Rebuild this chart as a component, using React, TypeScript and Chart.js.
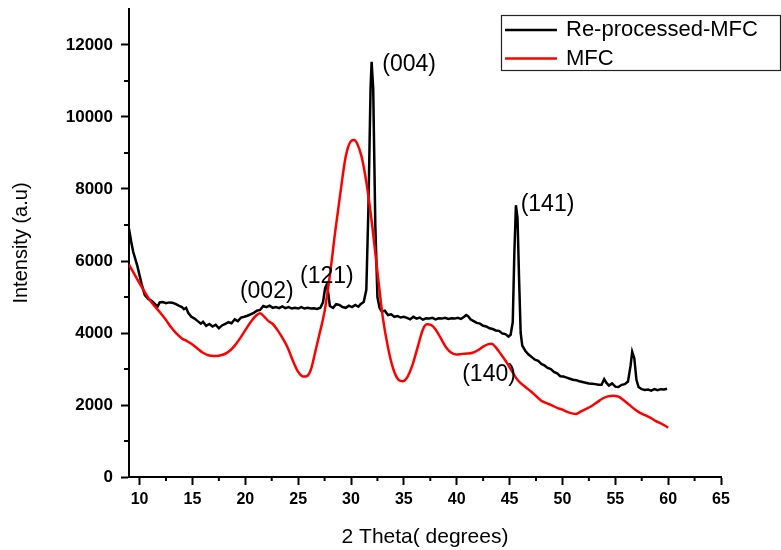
import React, { useEffect, useRef } from "react";
import { Chart, registerables } from "chart.js";

Chart.register(...registerables);

// Re-processed-MFC (black)
const reprocessedX = [
  9.0, 9.2, 9.4, 9.6, 9.8, 10.0, 10.2, 10.5, 10.8, 11.1, 11.4, 11.7, 11.9, 12.2, 12.5, 12.8, 13.1, 13.4, 13.7, 14.0,
  14.2, 14.4, 14.6, 14.9, 15.2, 15.5, 15.8, 16.0, 16.3, 16.6, 16.9, 17.2, 17.5, 17.8, 18.1, 18.4, 18.7, 19.0, 19.3, 19.6,
  19.9, 20.2, 20.5, 20.8, 21.1, 21.4, 21.7, 22.0, 22.3, 22.6, 22.9, 23.2, 23.5, 23.8, 24.1, 24.4, 24.7, 25.0, 25.3, 25.6,
  25.9, 26.2, 26.5, 26.8, 27.1, 27.35, 27.55, 27.7, 27.85, 28.0, 28.3, 28.6, 28.9, 29.2, 29.5, 29.8, 30.1, 30.4, 30.7, 30.9,
  31.2, 31.45, 31.65, 31.85, 31.95, 32.1, 32.3, 32.5, 32.7, 32.9, 33.2, 33.5, 33.8, 34.1, 34.4, 34.7, 35.0, 35.3, 35.6, 35.9,
  36.2, 36.5, 36.8, 37.1, 37.4, 37.7, 38.0, 38.3, 38.6, 38.9, 39.2, 39.5, 39.8, 40.1, 40.4, 40.7, 40.9, 41.1, 41.3, 41.6,
  41.9, 42.2, 42.5, 42.8, 43.1, 43.4, 43.7, 44.0, 44.3, 44.6, 44.9, 45.1, 45.3, 45.45, 45.6, 45.75, 45.9, 46.05, 46.2, 46.5,
  46.8, 47.1, 47.4, 47.7, 48.0, 48.3, 48.6, 48.9, 49.2, 49.5, 49.8, 50.1, 50.4, 50.7, 51.0, 51.3, 51.6, 51.9, 52.2, 52.5,
  52.8, 53.1, 53.4, 53.7, 53.95, 54.15, 54.4, 54.7, 55.0, 55.3, 55.6, 55.9, 56.2, 56.45, 56.6, 56.8, 57.0, 57.2, 57.5, 57.8,
  58.1, 58.4, 58.7, 59.0, 59.3, 59.6, 59.9,
];
const reprocessedY = [
  6900, 6550, 6250, 6050, 5850, 5600, 5350, 5050, 4950, 4900, 4820, 4730, 4850, 4860, 4830, 4850, 4840, 4810, 4760, 4720,
  4660, 4700, 4560, 4450, 4400, 4330, 4260, 4310, 4200, 4250, 4180, 4230, 4130, 4210, 4250, 4300, 4270, 4380, 4330, 4430,
  4450, 4480, 4520, 4560, 4620, 4640, 4750, 4720, 4760, 4700, 4720, 4690, 4740, 4690, 4720, 4680, 4700, 4680, 4720, 4680,
  4700, 4680, 4690, 4670, 4700, 4850, 5250, 5350, 5100, 4750, 4700, 4800, 4780, 4720, 4700, 4760, 4720, 4780, 4730, 4800,
  4860, 5200, 7500, 10800, 11530, 10800, 7000, 5000, 4700, 4600, 4620, 4500, 4520, 4450, 4470, 4430, 4450, 4420, 4380, 4450,
  4400, 4430, 4370, 4410, 4400, 4420, 4380, 4410, 4400, 4420, 4390, 4410, 4400, 4420, 4390, 4450, 4500, 4460, 4380, 4330,
  4280, 4260, 4200, 4180, 4130, 4110, 4070, 4060, 3990, 3970, 3900, 3950, 4300, 6200, 7550, 7200, 5500, 4000, 3650, 3500,
  3400, 3330, 3260, 3230, 3140, 3100, 3030, 3000, 2920, 2880, 2800, 2790, 2760, 2730, 2700, 2690, 2660, 2640, 2620, 2600,
  2590, 2580, 2560, 2560, 2720, 2620, 2540, 2600, 2510, 2500, 2560, 2580, 2650, 3100, 3480, 3300, 2700, 2500, 2440, 2420,
  2430, 2400, 2440, 2410, 2440, 2430, 2450,
];

// MFC (red)
const mfcX = [
  9.0, 10.0, 11.0, 12.0, 12.5, 13.0, 13.5, 14.0, 14.5, 15.0, 15.5, 16.0, 16.5, 17.0, 17.5, 18.0, 18.5, 19.0, 19.5, 20.0,
  20.5, 21.0, 21.4, 21.8, 22.2, 22.6, 23.0, 23.5, 24.0, 24.5, 25.0, 25.5, 25.8, 26.2, 26.6, 27.0, 27.5, 28.0, 28.5, 29.0,
  29.5, 30.0, 30.3, 30.6, 31.0, 31.5, 32.0, 32.5, 33.0, 33.5, 34.0, 34.5, 34.9, 35.3, 35.8, 36.3, 36.8, 37.2, 37.6, 38.0,
  38.5, 39.0, 39.5, 40.0, 40.5, 41.0, 41.5, 42.0, 42.5, 43.0, 43.3, 43.7, 44.2, 44.8, 45.3, 45.8, 46.5, 47.0, 47.5, 48.0,
  48.5, 49.0, 49.5, 50.0, 50.5, 51.0, 51.3, 51.8, 52.3, 52.8, 53.3, 53.8, 54.3, 54.8, 55.3, 55.8, 56.3, 56.8, 57.3, 57.8,
  58.3, 58.8, 59.3, 59.8, 60.0,
];
const mfcY = [
  5900, 5380, 4900, 4550, 4360, 4150, 3980, 3850, 3770, 3680, 3560, 3450, 3380, 3360, 3370, 3410, 3500, 3650, 3850, 4080,
  4300, 4480, 4550, 4450, 4330, 4250, 4100, 3870, 3600, 3230, 2920, 2790, 2800, 2980, 3450, 3950, 4600, 5600, 6800, 7900,
  8900, 9330, 9360, 9250, 8900, 8100, 7000, 5700, 4450, 3600, 3000, 2700, 2660, 2760, 3100, 3600, 4100, 4240, 4220, 4100,
  3850, 3600, 3450, 3400, 3420, 3430, 3450, 3520, 3620, 3690, 3700, 3600, 3400, 3150, 2900, 2680, 2500, 2380, 2250, 2120,
  2050, 1990, 1920, 1870, 1800, 1760, 1750, 1830, 1900, 1980, 2080, 2180, 2240, 2260, 2230, 2130, 2010, 1890, 1790, 1720,
  1650, 1560, 1490, 1410, 1370,
];

const xTickValues = [10, 15, 20, 25, 30, 35, 40, 45, 50, 55, 60, 65];
const xMinorTicks = [12.5, 17.5, 22.5, 27.5, 32.5, 37.5, 42.5, 47.5, 52.5, 57.5, 62.5];
const yTickValues = [0, 2000, 4000, 6000, 8000, 10000, 12000];
const yMinorTicks = [1000, 3000, 5000, 7000, 9000, 11000];

const peakLabels = ["(004)", "(141)", "(121)", "(002)", "(140)"];
const peakLabelX = [32.96, 46.05, 25.18, 19.49, 40.52];
const peakLabelY = [11444, 7556, 5564, 5147, 2833];

const FONT = '"Liberation Sans", Arial, Helvetica, sans-serif';

const decorPlugin = {
  id: "decor",
  afterDraw(chart: any) {
    const ctx = chart.ctx;
    const xs = chart.scales.x;
    const ys = chart.scales.y;
    ctx.save();
    ctx.strokeStyle = "#000";
    ctx.lineWidth = 2;
    xMinorTicks.forEach((v) => {
      const px = xs.getPixelForValue(v);
      ctx.beginPath();
      ctx.moveTo(px, ys.bottom);
      ctx.lineTo(px, ys.bottom + 4);
      ctx.stroke();
    });
    yMinorTicks.forEach((v) => {
      const py = ys.getPixelForValue(v);
      ctx.beginPath();
      ctx.moveTo(xs.left, py);
      ctx.lineTo(xs.left - 5, py);
      ctx.stroke();
    });

    // peak annotations
    ctx.fillStyle = "#000";
    ctx.font = `23px ${FONT}`;
    ctx.textAlign = "left";
    ctx.textBaseline = "middle";
    peakLabels.forEach((t, i) => {
      ctx.fillText(t, xs.getPixelForValue(peakLabelX[i]), ys.getPixelForValue(peakLabelY[i]));
    });

    // legend box
    const boxLeft = chart.width - 280;
    const boxTop = 15;
    ctx.lineWidth = 1.2;
    ctx.strokeStyle = "#222";
    ctx.strokeRect(boxLeft + 0.5, boxTop + 0.5, 279, 55);
    ctx.font = `22px ${FONT}`;
    chart.data.datasets.forEach((ds: any, i: number) => {
      const y = boxTop + 15 + i * 28.5;
      ctx.strokeStyle = ds.borderColor;
      ctx.lineWidth = 2.5;
      ctx.beginPath();
      ctx.moveTo(boxLeft + 4, y);
      ctx.lineTo(boxLeft + 56, y);
      ctx.stroke();
      ctx.fillStyle = "#000";
      ctx.fillText(ds.label, boxLeft + 65, y);
    });
    ctx.restore();
  },
};

export default function App() {
  const canvasRef = useRef<HTMLCanvasElement | null>(null);

  useEffect(() => {
    const canvas = canvasRef.current;
    if (!canvas) return;
    const chart = new Chart(canvas, {
      type: "line",
      data: {
        datasets: [
          {
            label: "Re-processed-MFC",
            data: reprocessedX.map((x, i) => ({ x, y: reprocessedY[i] })),
            borderColor: "#000000",
            backgroundColor: "#000000",
            borderWidth: 2.5,
            pointRadius: 0,
            tension: 0,
            order: 2,
          },
          {
            label: "MFC",
            data: mfcX.map((x, i) => ({ x, y: mfcY[i] })),
            borderColor: "#ff0000",
            backgroundColor: "#ff0000",
            borderWidth: 2.5,
            pointRadius: 0,
            cubicInterpolationMode: "monotone",
            order: 1,
          },
        ],
      },
      options: {
        animation: false,
        responsive: false,
        devicePixelRatio: 1,
        layout: { padding: { left: 0, right: 60, top: 9, bottom: 0 } },
        plugins: {
          legend: { display: false },
          tooltip: { enabled: false },
        },
        scales: {
          x: {
            type: "linear",
            min: 9,
            max: 65,
            afterBuildTicks: (scale: any) => {
              scale.ticks = xTickValues.map((v) => ({ value: v }));
            },
            afterFit: (scale: any) => {
              scale.height = 73;
              scale.paddingLeft = 0;
              scale.paddingRight = 0;
            },
            border: { display: true, color: "#000", width: 2 },
            grid: {
              display: true,
              drawOnChartArea: false,
              drawTicks: true,
              tickLength: 8,
              tickWidth: 2,
              tickColor: "#000",
              color: "#000",
            },
            ticks: {
              color: "#000",
              padding: 5,
              maxRotation: 0,
              autoSkip: false,
              font: { family: FONT, size: 16, weight: "bold" },
              callback: (v: any) => String(v),
            },
            title: {
              display: true,
              text: "2 Theta( degrees)",
              color: "#000",
              font: { family: FONT, size: 21 },
              padding: { top: 0, bottom: 0 },
            },
          },
          y: {
            type: "linear",
            min: 0,
            max: 13000,
            afterBuildTicks: (scale: any) => {
              scale.ticks = yTickValues.map((v) => ({ value: v }));
            },
            afterFit: (scale: any) => {
              scale.width = 129;
              scale.paddingTop = 0;
              scale.paddingBottom = 0;
            },
            border: { display: true, color: "#000", width: 2 },
            grid: {
              display: true,
              drawOnChartArea: false,
              drawTicks: true,
              tickLength: 8,
              tickWidth: 2,
              tickColor: "#000",
              color: "#000",
            },
            ticks: {
              color: "#000",
              padding: 8,
              autoSkip: false,
              font: { family: FONT, size: 17, weight: "bold" },
              callback: (v: any) => String(v),
            },
            title: {
              display: true,
              text: "Intensity (a.u)",
              color: "#000",
              font: { family: FONT, size: 20 },
              padding: { top: 9, bottom: 0 },
            },
          },
        },
      },
      plugins: [decorPlugin],
    } as any);
    return () => chart.destroy();
  }, []);

  return (
    <div style={{ position: "fixed", left: 0, top: 0, width: 781, height: 550, background: "#fff" }}>
      <canvas ref={canvasRef} width={781} height={550} style={{ display: "block" }} />
    </div>
  );
}
